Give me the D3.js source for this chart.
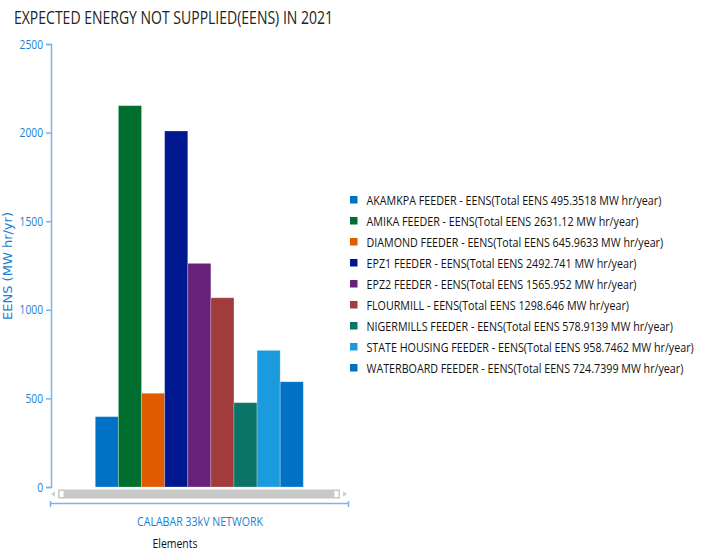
<!DOCTYPE html>
<html>
<head>
<meta charset="utf-8">
<script src="https://cdnjs.cloudflare.com/ajax/libs/d3/7.8.5/d3.min.js"></script>
<style>
  body { margin: 0; background: #fff; }
  svg { display: block; font-family: "Open Sans", "Liberation Sans", sans-serif; }
</style>
</head>
<body>
<script>
var feeders = ["AKAMKPA FEEDER", "AMIKA FEEDER", "DIAMOND FEEDER", "EPZ1 FEEDER", "EPZ2 FEEDER",
  "FLOURMILL", "NIGERMILLS FEEDER", "STATE HOUSING FEEDER", "WATERBOARD FEEDER"];
var eens = [397, 2152, 529, 2009, 1262, 1068, 476, 771, 594];
var totals = ["495.3518", "2631.12", "645.9633", "2492.741", "1565.952", "1298.646", "578.9139", "958.7462", "724.7399"];
var colors = ["#0072c6", "#006e2e", "#e05a00", "#00188f", "#68217a", "#a23b3b", "#0a7566", "#1c9ade", "#0072c6"];
var yTicks = [0, 500, 1000, 1500, 2000, 2500];
var category = "CALABAR 33kV NETWORK";

var width = 703, height = 551;
var margin = { top: 44, left: 51 },
  plotBottom = 487,
  groupLeft = 95.3, groupRight = 303.3;

var svg = d3.select("body").append("svg")
  .attr("width", width)
  .attr("height", height);

var blue = "#1a7fd4", axisBlue = "#7db4e6";

// squeeze text horizontally to look like the narrow original font
function squeeze(sel, k) {
  sel.each(function () {
    var w = this.getComputedTextLength();
    d3.select(this).attr("textLength", w * k).attr("lengthAdjust", "spacingAndGlyphs");
  });
}

// title
var title = svg.append("text")
  .attr("x", 14).attr("y", 24)
  .attr("font-size", 18)
  .attr("fill", "#222")
  .text("EXPECTED ENERGY NOT SUPPLIED(EENS) IN 2021");
title.attr("textLength", 319).attr("lengthAdjust", "spacingAndGlyphs");

var y = d3.scaleLinear()
  .domain([0, 2500])
  .range([plotBottom, margin.top]);

var x = d3.scaleBand()
  .domain(feeders)
  .range([groupLeft, groupRight])
  .padding(0);

// y axis
var yAxis = d3.axisLeft(y).tickValues(yTicks).tickSize(5).tickPadding(3).tickFormat(d3.format("d"));
var gy = svg.append("g")
  .attr("transform", `translate(${margin.left},0)`)
  .call(yAxis);
gy.select(".domain").attr("stroke", axisBlue).attr("stroke-width", 1.5);
gy.selectAll(".tick line").attr("stroke", axisBlue).attr("stroke-width", 1.5);
gy.selectAll(".tick text").attr("fill", blue).attr("font-size", 12.5)
  .attr("font-family", "'Open Sans', sans-serif");
squeeze(gy.selectAll(".tick text"), 0.82);

svg.append("text")
  .attr("transform", "translate(12,266) rotate(-90)")
  .attr("text-anchor", "middle")
  .attr("font-size", 11.5)
  .attr("fill", blue)
  .attr("font-family", "'DejaVu Sans', sans-serif")
  .attr("textLength", 108)
  .attr("lengthAdjust", "spacingAndGlyphs")
  .text("EENS (MW hr/yr)");

// bars
svg.selectAll(".bar")
  .data(feeders)
  .enter()
  .append("rect")
  .attr("class", "bar")
  .attr("x", function (d) { return x(d); })
  .attr("width", x.bandwidth())
  .attr("y", function (d, i) { return y(eens[i]); })
  .attr("height", function (d, i) { return y(0) - y(eens[i]); })
  .attr("fill", function (d, i) { return colors[i]; })
  .attr("stroke", "#fff")
  .attr("stroke-opacity", 0.25)
  .attr("stroke-width", 1);

// scrollbar
var sb = svg.append("g");
sb.append("rect").attr("x", 58).attr("y", 489.5).attr("width", 282).attr("height", 9)
  .attr("fill", "#c8c8c8");
sb.append("rect").attr("x", 59.5).attr("y", 491).attr("width", 4).attr("height", 6)
  .attr("fill", "#fff");
sb.append("rect").attr("x", 334.5).attr("y", 491).attr("width", 4).attr("height", 6)
  .attr("fill", "#fff");
sb.append("path").attr("d", "M51,494 L55,491 L55,497 Z").attr("fill", "#d0d0d0");
sb.append("path").attr("d", "M347,494 L343,491 L343,497 Z").attr("fill", "#d0d0d0");

// x bracket axis
var xb = svg.append("g").attr("stroke", axisBlue).attr("stroke-width", 1.5).attr("fill", "none");
xb.append("path").attr("d", "M50.5,501 V507 M50.5,503.5 H348.5 M348.5,501 V507");

svg.append("text")
  .attr("x", 200).attr("y", 526)
  .attr("text-anchor", "middle")
  .attr("font-size", 13)
  .attr("fill", blue)
  .attr("textLength", 126)
  .attr("lengthAdjust", "spacingAndGlyphs")
  .text(category);

svg.append("text")
  .attr("x", 175).attr("y", 548)
  .attr("text-anchor", "middle")
  .attr("font-size", 13)
  .attr("fill", "#111")
  .attr("textLength", 45)
  .attr("lengthAdjust", "spacingAndGlyphs")
  .text("Elements");

// legend
var legend = svg.selectAll(".legend")
  .data(feeders)
  .enter()
  .append("g")
  .attr("class", "legend")
  .attr("transform", function (d, i) { return `translate(350,${200 + i * 21})`; });

legend.append("rect")
  .attr("x", 0).attr("y", -4)
  .attr("width", 7.5).attr("height", 7.5)
  .attr("fill", function (d, i) { return colors[i]; });

var labels = legend.append("text")
  .attr("x", 0).attr("y", 4.5)
  .attr("font-size", 13)
  .attr("fill", "#111")
  .text(function (d, i) { return d + " - EENS(Total EENS " + totals[i] + " MW hr/year)"; });

// narrow the labels so the first row is as wide as in the original
var k = 295 / labels.node().getComputedTextLength();
labels.attr("transform", `translate(16.5,0) scale(${k},1)`);
</script>
</body>
</html>
